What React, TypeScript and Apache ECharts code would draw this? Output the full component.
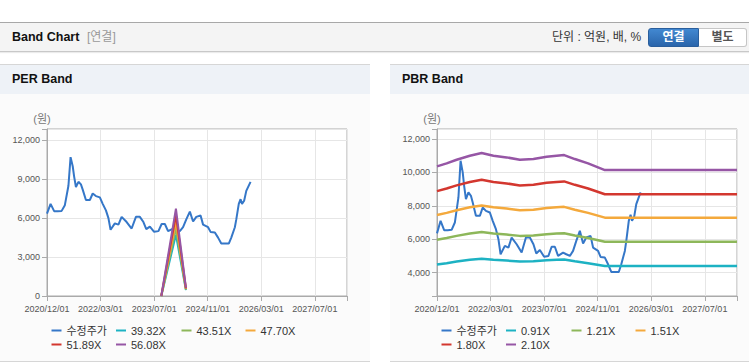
import React, { useEffect, useRef } from "react";
import * as echarts from "echarts";

const FONT = "'Liberation Sans', Arial, 'Noto Sans CJK KR', sans-serif";

// X axis: months since 2020/12/01
const xTickLabels = ["2020/12/01", "2022/03/01", "2023/07/01", "2024/11/01", "2026/03/01", "2027/07/01"];
const xMonthStep = 15;
const xMaxMonth = 84;

// 수정주가 (adjusted price)
const priceMonths = [0, 1.0, 2.0, 3.0, 4.1, 5.0, 6.0, 6.6, 7.2, 7.6, 8.1, 8.8, 9.5, 10.0, 10.9, 12.0, 12.8, 13.7, 14.8, 15.6, 16.5, 17.2, 17.8, 19.0, 20.0, 20.9, 22.3, 23.7, 24.9, 26.0, 27.0, 27.8, 28.8, 30.0, 31.2, 32.1, 33.0, 33.9, 35.3, 36.2, 37.2, 38.1, 39.0, 40.0, 40.9, 41.8, 43.0, 43.7, 45.1, 45.8, 47.0, 47.9, 48.8, 50.9, 51.6, 52.6, 53.0, 53.7, 54.2, 54.6, 55.2, 55.8, 57.0];
const priceValues = [6350, 7100, 6540, 6540, 6560, 7000, 8500, 10700, 10000, 9200, 8400, 8800, 8600, 8200, 7400, 7400, 7900, 7700, 7600, 7100, 6600, 6000, 5100, 5600, 5500, 6100, 5700, 5200, 6100, 6100, 5700, 5150, 5350, 4950, 5000, 5550, 5550, 5000, 5200, 5100, 5000, 5300, 5900, 6500, 5740, 6100, 6200, 5500, 5300, 4940, 4900, 4500, 4040, 4040, 4500, 5300, 5900, 7100, 7460, 7100, 7340, 8100, 8800];

// PER bands
const perNames = ["39.32X", "43.51X", "47.70X", "51.89X", "56.08X"];
const perMonths = [32.0, 36.1, 38.9];
const per3932 = [0, 4719, 449];
const per4351 = [0, 5221, 497];
const per4770 = [0, 5724, 544];
const per5189 = [0, 6227, 592];
const per5608 = [0, 6730, 640];
const perYTicks = [0, 3000, 6000, 9000, 12000];

// PBR bands
const pbrNames = ["0.91X", "1.21X", "1.51X", "1.80X", "2.10X"];
const pbrMonths = [0, 2.7, 5.5, 9.2, 12.5, 15.8, 19.5, 23.2, 27.0, 30.7, 33.5, 35.6, 38.6, 42.3, 47.0, 84];
const pbr091 = [4489, 4567, 4663, 4767, 4836, 4767, 4723, 4663, 4680, 4741, 4767, 4784, 4680, 4567, 4394, 4394];
const pbr121 = [5969, 6073, 6200, 6338, 6430, 6338, 6280, 6200, 6223, 6304, 6338, 6361, 6223, 6073, 5843, 5843];
const pbr151 = [7449, 7579, 7737, 7909, 8024, 7909, 7837, 7737, 7766, 7867, 7909, 7938, 7766, 7579, 7292, 7292];
const pbr180 = [8879, 9034, 9223, 9428, 9565, 9428, 9342, 9223, 9257, 9378, 9428, 9463, 9257, 9034, 8692, 8692];
const pbr210 = [10360, 10540, 10760, 11000, 11160, 11000, 10900, 10760, 10800, 10940, 11000, 11040, 10800, 10540, 10140, 10140];
const pbrYTicks = [4000, 6000, 8000, 10000, 12000];

const priceName = "수정주가";
const colors = ["#3577c8", "#1db2c3", "#8db75a", "#f4a93c", "#d3372f", "#9656a5"];

const legendLefts = [51.5, 116, 181.5, 245.5];
const legendTops = [231, 245];

function pairs(xs: number[], ys: number[]) {
  return xs.map((x, i) => [x, ys[i]]);
}

type Cfg = {
  bandNames: string[];
  bandMonths: number[];
  bands: number[][];
  yMin: number;
  yMax: number;
  yInterval?: number;
  ySplit?: number;
  yTicks: number[];
  bandWidth: number;
};

function ChartBox({ cfg }: { cfg: Cfg }) {
  const ref = useRef<HTMLDivElement>(null);
  useEffect(() => {
    if (!ref.current) return;
    const chart = echarts.init(ref.current, undefined, { renderer: "svg" });
    const names = [priceName, ...cfg.bandNames];
    const series: any[] = [
      {
        name: priceName,
        type: "line",
        data: pairs(priceMonths, priceValues),
        symbol: "none",
        showSymbol: false,
        lineStyle: { width: 2, color: colors[0] },
        itemStyle: { color: colors[0] },
      },
      ...cfg.bands.map((b, i) => ({
        name: cfg.bandNames[i],
        type: "line",
        data: pairs(cfg.bandMonths, b),
        symbol: "none",
        showSymbol: false,
        lineStyle: { width: cfg.bandWidth, color: colors[i + 1] },
        itemStyle: { color: colors[i + 1] },
      })),
    ];
    const legends = names.map((n, i) => ({
      data: [n],
      left: legendLefts[i % 4],
      top: legendTops[Math.floor(i / 4)],
      orient: "horizontal",
      icon: "rect",
      itemWidth: 10,
      itemHeight: 2,
      padding: 0,
      selectedMode: false,
      textStyle: { fontSize: 11, color: "#333", fontFamily: FONT },
    }));
    const yAxis: any = {
      type: "value",
      min: cfg.yMin,
      max: cfg.yMax,
      name: "(원)",
      nameLocation: "end",
      nameGap: 5,
      nameTextStyle: { color: "#777", fontSize: 11, fontFamily: FONT, padding: [0, 10, 0, 0] },
      axisLine: { show: true, lineStyle: { color: "#aaa", width: 1 } },
      axisTick: { show: true, length: 5, lineStyle: { color: "#aaa" } },
      axisLabel: {
        margin: 7,
        fontSize: 9,
        color: "#555",
        fontFamily: FONT,
        formatter: (v: number) => (cfg.yTicks.includes(Math.round(v)) ? Math.round(v).toLocaleString("en-US") : ""),
      },
      splitLine: { show: true, lineStyle: { color: "#e6e6e6", width: 1 } },
    };
    if (cfg.yInterval) yAxis.interval = cfg.yInterval;
    if (cfg.ySplit) yAxis.splitNumber = cfg.ySplit;
    chart.setOption({
      animation: false,
      grid: {
        left: 47,
        top: 35,
        width: 300,
        height: 167,
        show: true,
        borderColor: "#aaa",
        borderWidth: 1,
        backgroundColor: "#fff",
        containLabel: false,
        outerBoundsMode: "none",
      },
      xAxis: {
        type: "value",
        min: 0,
        max: xMaxMonth,
        interval: xMonthStep,
        axisLine: { show: true, lineStyle: { color: "#aaa", width: 1 } },
        axisTick: { show: true, length: 5, lineStyle: { color: "#aaa" } },
        axisLabel: {
          margin: 8,
          fontSize: 9,
          color: "#555",
          fontFamily: FONT,
          formatter: (v: number) => {
            const i = Math.round(v / xMonthStep);
            return Math.abs(v - i * xMonthStep) < 1e-6 && i < xTickLabels.length ? xTickLabels[i] : "";
          },
        },
        splitLine: { show: true, lineStyle: { color: "#e6e6e6", width: 1 } },
      },
      yAxis,
      legend: legends,
      series,
    });
    return () => chart.dispose();
  }, [cfg]);
  return <div ref={ref} style={{ position: "absolute", left: 0, top: 29, width: "100%", height: 269 }} />;
}

const perCfg: Cfg = {
  bandNames: perNames,
  bandMonths: perMonths,
  bands: [per3932, per4351, per4770, per5189, per5608],
  yMin: 0,
  yMax: 12870,
  yInterval: 3000,
  yTicks: perYTicks,
  bandWidth: 2,
};

const pbrCfg: Cfg = {
  bandNames: pbrNames,
  bandMonths: pbrMonths,
  bands: [pbr091, pbr121, pbr151, pbr180, pbr210],
  yMin: 2600,
  yMax: 12600,
  ySplit: 5,
  yTicks: pbrYTicks,
  bandWidth: 2.5,
};

function Panel({ left, width, title, cfg }: { left: number; width: number; title: string; cfg: Cfg }) {
  return (
    <div
      style={{
        position: "absolute",
        left,
        top: 64,
        width,
        height: 298,
        background: "#fbfbfb",
        borderTop: "1px solid #d6d6d6",
        borderBottom: "1px solid #d6d6d6",
        boxSizing: "border-box",
      }}
    >
      <div
        style={{
          position: "absolute",
          left: 0,
          top: 0,
          width: "100%",
          height: 29,
          background: "#eef2f7",
        }}
      >
        <span
          style={{
            position: "absolute",
            left: 12,
            top: 7,
            fontSize: 12.5,
            fontWeight: "bold",
            color: "#111",
            fontFamily: FONT,
            lineHeight: "15px",
          }}
        >
          {title}
        </span>
      </div>
      <ChartBox cfg={cfg} />
    </div>
  );
}

export default function App() {
  return (
    <div
      style={{
        position: "absolute",
        left: 0,
        top: 0,
        width: 749,
        height: 364,
        background: "#fff",
        overflow: "hidden",
        fontFamily: FONT,
      }}
    >
      <div
        style={{
          position: "absolute",
          left: 0,
          top: 22,
          width: 749,
          height: 30,
          background: "#f4f4f4",
          borderTop: "1px solid #a8a8a8",
          borderBottom: "1px solid #c8c8c8",
          boxShadow: "0 1px 1px rgba(0,0,0,0.08)",
          boxSizing: "border-box",
        }}
      >
        <span style={{ position: "absolute", left: 12, top: 7, fontSize: 12.5, fontWeight: "bold", color: "#111", lineHeight: "15px" }}>
          Band Chart
        </span>
        <span style={{ position: "absolute", left: 87, top: 7, fontSize: 12, color: "#999", lineHeight: "15px" }}>[연결]</span>
        <span style={{ position: "absolute", left: 552, top: 7, fontSize: 12, color: "#333", lineHeight: "15px" }}>
          단위 : 억원, 배, %
        </span>
        <div
          style={{
            position: "absolute",
            left: 648,
            top: 5,
            width: 51,
            height: 19,
            boxSizing: "border-box",
            background: "linear-gradient(#4288d1, #2a65ab)",
            border: "1px solid #2a5e9c",
            borderRadius: "3px 0 0 3px",
            color: "#fff",
            fontSize: 12,
            fontWeight: "bold",
            textAlign: "center",
            lineHeight: "17px",
          }}
        >
          연결
        </div>
        <div
          style={{
            position: "absolute",
            left: 699,
            top: 5,
            width: 48,
            height: 19,
            boxSizing: "border-box",
            background: "#fff",
            border: "1px solid #c6c6c6",
            borderLeft: "none",
            borderRadius: "0 3px 3px 0",
            color: "#555",
            fontSize: 12,
            fontWeight: "bold",
            textAlign: "center",
            lineHeight: "17px",
          }}
        >
          별도
        </div>
      </div>
      <Panel left={0} width={370} title="PER Band" cfg={perCfg} />
      <Panel left={390} width={359} title="PBR Band" cfg={pbrCfg} />
    </div>
  );
}
